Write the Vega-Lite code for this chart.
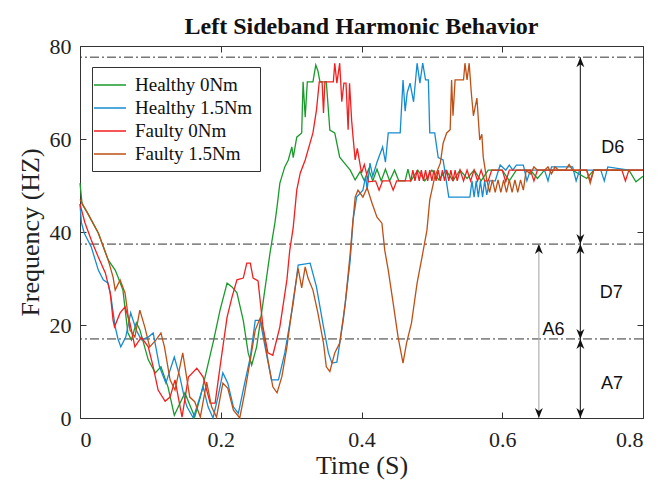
{
"$schema":"https://vega.github.io/schema/vega-lite/v6.json",
"width":563,"height":372,
"autosize":"none",
"padding":{"left":80,"top":46,"right":17,"bottom":68},
"config":{"font":"Liberation Serif","view":{"stroke":"#333","strokeWidth":1},
 "axis":{"grid":false,"domain":false,"tickColor":"#333","tickSize":-6,"labelColor":"#222","titleColor":"#222","labelFont":"Liberation Serif","titleFont":"Liberation Serif","titleFontWeight":"normal","labelFontSize":22,"titleFontSize":26}},
"title":{"text":"Left Sideband Harmonic Behavior","font":"Liberation Serif","fontSize":24,"fontWeight":"bold","color":"#111","offset":-4},
"datasets":{
"g":[{"t":0,"f":50.5},{"t":0.003,"f":46},{"t":0.011,"f":44},{"t":0.026,"f":39.8},{"t":0.04,"f":34},{"t":0.05,"f":31.8},{"t":0.054,"f":30.3},{"t":0.061,"f":27.5},{"t":0.068,"f":18.3},{"t":0.073,"f":16.8},{"t":0.08,"f":20.5},{"t":0.085,"f":19},{"t":0.097,"f":12.5},{"t":0.107,"f":9.7},{"t":0.115,"f":11},{"t":0.125,"f":6.7},{"t":0.134,"f":0.6},{"t":0.149,"f":5.4},{"t":0.163,"f":0.2},{"t":0.171,"f":4.5},{"t":0.18,"f":10.3},{"t":0.19,"f":16.8},{"t":0.199,"f":23.2},{"t":0.209,"f":29},{"t":0.216,"f":28.2},{"t":0.223,"f":26.9},{"t":0.232,"f":21},{"t":0.239,"f":14},{"t":0.244,"f":11.4},{"t":0.251,"f":15.3},{"t":0.26,"f":24.7},{"t":0.27,"f":35.5},{"t":0.277,"f":42},{"t":0.28,"f":45.4},{"t":0.284,"f":50.5},{"t":0.291,"f":54},{"t":0.296,"f":55.5},{"t":0.301,"f":58.3},{"t":0.303,"f":56},{"t":0.308,"f":60.4},{"t":0.315,"f":61.3},{"t":0.317,"f":72.3},{"t":0.32,"f":64.7},{"t":0.323,"f":72.3},{"t":0.331,"f":72.3},{"t":0.335,"f":75.9},{"t":0.338,"f":74.7},{"t":0.341,"f":72.3},{"t":0.35,"f":72.3},{"t":0.355,"f":61.9},{"t":0.362,"f":61.3},{"t":0.369,"f":56.1},{"t":0.377,"f":54.6},{"t":0.384,"f":53.3},{"t":0.391,"f":51.2},{"t":0.398,"f":53},{"t":0.404,"f":51},{"t":0.41,"f":53.5},{"t":0.416,"f":51},{"t":0.422,"f":53.5},{"t":0.428,"f":51},{"t":0.434,"f":53.5},{"t":0.44,"f":51},{"t":0.447,"f":53.3},{"t":0.453,"f":51},{"t":0.462,"f":51},{"t":0.466,"f":53.5},{"t":0.47,"f":51},{"t":0.48,"f":53.3},{"t":0.49,"f":51},{"t":0.5,"f":53.3},{"t":0.51,"f":51.2},{"t":0.52,"f":53.3},{"t":0.53,"f":51},{"t":0.54,"f":53.3},{"t":0.55,"f":51.5},{"t":0.56,"f":53.3},{"t":0.57,"f":51},{"t":0.58,"f":53.3},{"t":0.6,"f":53.3},{"t":0.61,"f":51},{"t":0.62,"f":53.3},{"t":0.64,"f":53.3},{"t":0.65,"f":51.5},{"t":0.66,"f":53.3},{"t":0.7,"f":53.3},{"t":0.72,"f":51.5},{"t":0.73,"f":53.3},{"t":0.78,"f":53.3},{"t":0.79,"f":50.8},{"t":0.8,"f":52}],
"b":[{"t":0,"f":46},{"t":0.002,"f":42},{"t":0.006,"f":39.8},{"t":0.016,"f":36.8},{"t":0.026,"f":31.8},{"t":0.033,"f":29.7},{"t":0.04,"f":29},{"t":0.044,"f":26},{"t":0.05,"f":19.6},{"t":0.054,"f":17},{"t":0.058,"f":15.3},{"t":0.065,"f":17.4},{"t":0.072,"f":22.6},{"t":0.08,"f":18.9},{"t":0.087,"f":16.8},{"t":0.097,"f":17.4},{"t":0.104,"f":18.3},{"t":0.113,"f":11},{"t":0.122,"f":7.5},{"t":0.134,"f":13.1},{"t":0.142,"f":8.8},{"t":0.149,"f":3.9},{"t":0.152,"f":2.4},{"t":0.161,"f":0},{"t":0.175,"f":6.7},{"t":0.182,"f":2.4},{"t":0.189,"f":0},{"t":0.196,"f":4.5},{"t":0.203,"f":9.7},{"t":0.21,"f":7.5},{"t":0.218,"f":2.4},{"t":0.225,"f":1},{"t":0.234,"f":7.5},{"t":0.242,"f":13.1},{"t":0.249,"f":21},{"t":0.256,"f":21},{"t":0.263,"f":15.3},{"t":0.272,"f":8.2},{"t":0.282,"f":8.2},{"t":0.291,"f":14},{"t":0.303,"f":24.7},{"t":0.31,"f":32.9},{"t":0.327,"f":33.3},{"t":0.336,"f":28.2},{"t":0.346,"f":19.6},{"t":0.353,"f":14},{"t":0.358,"f":11.8},{"t":0.365,"f":12},{"t":0.374,"f":21},{"t":0.384,"f":34},{"t":0.388,"f":42.6},{"t":0.391,"f":45.4},{"t":0.393,"f":47.5},{"t":0.402,"f":49},{"t":0.406,"f":52},{"t":0.408,"f":49},{"t":0.412,"f":54.8},{"t":0.416,"f":52},{"t":0.422,"f":55},{"t":0.43,"f":58.3},{"t":0.434,"f":55},{"t":0.438,"f":61.3},{"t":0.455,"f":61.3},{"t":0.459,"f":72.7},{"t":0.462,"f":66},{"t":0.465,"f":70},{"t":0.469,"f":72},{"t":0.474,"f":68},{"t":0.479,"f":76.3},{"t":0.483,"f":72},{"t":0.487,"f":76.3},{"t":0.491,"f":72.7},{"t":0.495,"f":72.7},{"t":0.497,"f":61.3},{"t":0.504,"f":61.3},{"t":0.509,"f":56},{"t":0.516,"f":55.5},{"t":0.521,"f":50.5},{"t":0.524,"f":47.5},{"t":0.554,"f":47.5},{"t":0.557,"f":51},{"t":0.56,"f":47.5},{"t":0.563,"f":51},{"t":0.566,"f":47.5},{"t":0.569,"f":51},{"t":0.572,"f":47.5},{"t":0.575,"f":51},{"t":0.578,"f":48},{"t":0.582,"f":51},{"t":0.59,"f":51},{"t":0.597,"f":54.4},{"t":0.605,"f":53.3},{"t":0.61,"f":54.4},{"t":0.615,"f":53.3},{"t":0.62,"f":54.4},{"t":0.63,"f":54.4},{"t":0.635,"f":51},{"t":0.64,"f":53.3},{"t":0.66,"f":53.3},{"t":0.665,"f":51},{"t":0.67,"f":54},{"t":0.7,"f":54},{"t":0.705,"f":51},{"t":0.71,"f":53.3},{"t":0.74,"f":53.3},{"t":0.745,"f":51},{"t":0.75,"f":54},{"t":0.78,"f":53.3},{"t":0.8,"f":53.3}],
"r":[{"t":0,"f":46},{"t":0.007,"f":42},{"t":0.016,"f":38.3},{"t":0.026,"f":34.6},{"t":0.036,"f":31.2},{"t":0.043,"f":26.9},{"t":0.047,"f":21},{"t":0.049,"f":19.6},{"t":0.057,"f":22.6},{"t":0.064,"f":23.9},{"t":0.071,"f":20.4},{"t":0.078,"f":15.3},{"t":0.087,"f":17.4},{"t":0.097,"f":15.3},{"t":0.104,"f":11},{"t":0.111,"f":6},{"t":0.121,"f":3.6},{"t":0.128,"f":4.5},{"t":0.135,"f":8.2},{"t":0.145,"f":0.2},{"t":0.154,"f":8.8},{"t":0.166,"f":10.7},{"t":0.175,"f":8.8},{"t":0.185,"f":3.2},{"t":0.192,"f":3.2},{"t":0.199,"f":11},{"t":0.209,"f":21.7},{"t":0.216,"f":26},{"t":0.223,"f":29.7},{"t":0.232,"f":30.1},{"t":0.237,"f":33.3},{"t":0.242,"f":33.3},{"t":0.246,"f":30.1},{"t":0.253,"f":29.5},{"t":0.26,"f":19.6},{"t":0.267,"f":14},{"t":0.274,"f":13.5},{"t":0.284,"f":19.6},{"t":0.294,"f":29.7},{"t":0.298,"f":36},{"t":0.303,"f":41},{"t":0.308,"f":49},{"t":0.313,"f":52.7},{"t":0.32,"f":55.5},{"t":0.324,"f":57.6},{"t":0.331,"f":61.3},{"t":0.336,"f":66.2},{"t":0.34,"f":72.3},{"t":0.344,"f":72.3},{"t":0.346,"f":65.6},{"t":0.348,"f":72.3},{"t":0.36,"f":72.3},{"t":0.362,"f":76.3},{"t":0.365,"f":72},{"t":0.369,"f":76.3},{"t":0.372,"f":68},{"t":0.375,"f":72},{"t":0.378,"f":72},{"t":0.381,"f":62},{"t":0.383,"f":72},{"t":0.386,"f":64},{"t":0.388,"f":60.4},{"t":0.391,"f":55.5},{"t":0.394,"f":58},{"t":0.4,"f":52.7},{"t":0.404,"f":54.5},{"t":0.41,"f":50.8},{"t":0.42,"f":51},{"t":0.425,"f":49},{"t":0.43,"f":51},{"t":0.44,"f":51},{"t":0.445,"f":49},{"t":0.45,"f":51},{"t":0.47,"f":51},{"t":0.473,"f":53.3},{"t":0.476,"f":51},{"t":0.479,"f":53.3},{"t":0.482,"f":51},{"t":0.485,"f":53.3},{"t":0.488,"f":51},{"t":0.491,"f":53.3},{"t":0.494,"f":51},{"t":0.497,"f":53.3},{"t":0.5,"f":51},{"t":0.503,"f":53.3},{"t":0.506,"f":51},{"t":0.509,"f":53.3},{"t":0.512,"f":51},{"t":0.515,"f":53.3},{"t":0.518,"f":51},{"t":0.521,"f":53.3},{"t":0.524,"f":51},{"t":0.527,"f":53.3},{"t":0.53,"f":51},{"t":0.533,"f":53.3},{"t":0.536,"f":51},{"t":0.54,"f":53.3},{"t":0.545,"f":51},{"t":0.55,"f":53.3},{"t":0.555,"f":51},{"t":0.56,"f":53.3},{"t":0.565,"f":51},{"t":0.57,"f":53.3},{"t":0.575,"f":51},{"t":0.58,"f":51},{"t":0.585,"f":53.3},{"t":0.6,"f":53.3},{"t":0.605,"f":50.8},{"t":0.61,"f":53.3},{"t":0.64,"f":53.3},{"t":0.645,"f":51},{"t":0.65,"f":53.3},{"t":0.72,"f":53.3},{"t":0.725,"f":51},{"t":0.73,"f":53.3},{"t":0.77,"f":53.3},{"t":0.775,"f":51},{"t":0.78,"f":53.3},{"t":0.8,"f":53.3}],
"o":[{"t":0,"f":47},{"t":0.011,"f":44},{"t":0.026,"f":39.8},{"t":0.04,"f":34},{"t":0.047,"f":30.3},{"t":0.05,"f":27.5},{"t":0.057,"f":29.7},{"t":0.064,"f":26.9},{"t":0.071,"f":18.9},{"t":0.078,"f":17.4},{"t":0.085,"f":23.2},{"t":0.092,"f":19.6},{"t":0.099,"f":15.3},{"t":0.108,"f":16.8},{"t":0.115,"f":18.3},{"t":0.12,"f":15.3},{"t":0.128,"f":8.2},{"t":0.135,"f":6},{"t":0.141,"f":10.3},{"t":0.146,"f":14},{"t":0.156,"f":4.5},{"t":0.163,"f":3.5},{"t":0.171,"f":0.2},{"t":0.18,"f":7.7},{"t":0.187,"f":2.4},{"t":0.194,"f":0.2},{"t":0.203,"f":7.5},{"t":0.21,"f":6.4},{"t":0.218,"f":1.7},{"t":0.227,"f":0},{"t":0.234,"f":5.4},{"t":0.242,"f":12.5},{"t":0.249,"f":18.9},{"t":0.256,"f":21.5},{"t":0.26,"f":19},{"t":0.267,"f":12.5},{"t":0.274,"f":6.7},{"t":0.28,"f":5.4},{"t":0.287,"f":9},{"t":0.294,"f":15.3},{"t":0.303,"f":25.4},{"t":0.31,"f":32.2},{"t":0.315,"f":28},{"t":0.32,"f":32.5},{"t":0.324,"f":30.1},{"t":0.331,"f":27.5},{"t":0.338,"f":22.6},{"t":0.346,"f":16.1},{"t":0.35,"f":11},{"t":0.355,"f":10},{"t":0.362,"f":14},{"t":0.369,"f":16.1},{"t":0.377,"f":24.7},{"t":0.384,"f":35.5},{"t":0.388,"f":42.6},{"t":0.391,"f":47.5},{"t":0.395,"f":49},{"t":0.402,"f":47.5},{"t":0.408,"f":49.5},{"t":0.415,"f":46.2},{"t":0.422,"f":43.2},{"t":0.429,"f":41.9},{"t":0.433,"f":36.1},{"t":0.438,"f":31.8},{"t":0.445,"f":24.7},{"t":0.452,"f":17.4},{"t":0.459,"f":11.8},{"t":0.464,"f":16.1},{"t":0.471,"f":20.4},{"t":0.479,"f":29},{"t":0.486,"f":34.6},{"t":0.493,"f":40.4},{"t":0.497,"f":46.9},{"t":0.504,"f":51.8},{"t":0.512,"f":54.8},{"t":0.516,"f":59.1},{"t":0.521,"f":61.3},{"t":0.526,"f":62},{"t":0.528,"f":72.7},{"t":0.53,"f":65},{"t":0.533,"f":72.7},{"t":0.545,"f":72.7},{"t":0.547,"f":76.3},{"t":0.55,"f":72.7},{"t":0.553,"f":76.3},{"t":0.556,"f":70},{"t":0.559,"f":65},{"t":0.564,"f":68.8},{"t":0.568,"f":59.8},{"t":0.571,"f":61},{"t":0.573,"f":56.1},{"t":0.578,"f":51.2},{"t":0.582,"f":48.5},{"t":0.586,"f":51.2},{"t":0.59,"f":48.5},{"t":0.594,"f":51.2},{"t":0.598,"f":48.5},{"t":0.602,"f":51.2},{"t":0.606,"f":48.5},{"t":0.61,"f":51.2},{"t":0.614,"f":48.5},{"t":0.618,"f":51.2},{"t":0.622,"f":48.5},{"t":0.626,"f":51.2},{"t":0.63,"f":49},{"t":0.634,"f":53.3},{"t":0.64,"f":52.5},{"t":0.645,"f":54},{"t":0.65,"f":53.3},{"t":0.66,"f":53.3},{"t":0.665,"f":54},{"t":0.67,"f":52.5},{"t":0.675,"f":54},{"t":0.68,"f":53.3},{"t":0.69,"f":53.3},{"t":0.695,"f":54.5},{"t":0.7,"f":53.3},{"t":0.72,"f":53.3},{"t":0.725,"f":50.5},{"t":0.73,"f":53.3},{"t":0.8,"f":53.3}],
"hl":[{"y":77.6},{"y":37.4},{"y":17}],
"ar":[{"x":0.711,"y1":37.4,"y2":77.6,"c":"k"},{"x":0.711,"y1":17,"y2":37.4,"c":"k"},{"x":0.711,"y1":0,"y2":17,"c":"k"},{"x":0.652,"y1":0,"y2":37.4,"c":"g"}],
"ah":[{"x":0.711,"y":77.6,"d":"up"},{"x":0.711,"y":37.4,"d":"down"},{"x":0.711,"y":37.4,"d":"up"},{"x":0.711,"y":17,"d":"down"},{"x":0.711,"y":17,"d":"up"},{"x":0.711,"y":0,"d":"down"},{"x":0.652,"y":37.4,"d":"up"},{"x":0.652,"y":0,"d":"down"}],
"lb":[{"x":0.757,"y":58,"l":"D6"},{"x":0.755,"y":26.9,"l":"D7"},{"x":0.673,"y":18.9,"l":"A6"},{"x":0.756,"y":7.4,"l":"A7"}]
},
"layer":[
{"data":{"name":"hl"},"mark":{"type":"rule","color":"#333","strokeWidth":1,"strokeDash":[9,3,2,3]},
 "encoding":{"y":{"field":"y","type":"quantitative","scale":{"domain":[0,80],"nice":false},"axis":{"orient":"right","labels":false,"title":null,"values":[0,20,40,60,80]}}}},
{"data":{"name":"ar"},"mark":{"type":"rule","strokeWidth":1.2},
 "encoding":{"x":{"field":"x","type":"quantitative","axis":null},"y":{"field":"y1","type":"quantitative","axis":null},"y2":{"field":"y2"},
  "stroke":{"field":"c","type":"nominal","scale":{"domain":["k","g"],"range":["#333","#b0b0b0"]},"legend":null}}},
{"data":{"name":"ah"},"mark":{"type":"point","filled":true,"color":"#111","opacity":1,"size":100,"strokeWidth":0},
 "encoding":{"x":{"field":"x","type":"quantitative","axis":null},"y":{"field":"y","type":"quantitative","axis":null},
  "shape":{"field":"d","type":"nominal","scale":{"domain":["up","down"],"range":["M0,0L0.8,2L0,1.4L-0.8,2Z","M0,0L0.8,-2L0,-1.4L-0.8,-2Z"]},"legend":null}}},
{"data":{"name":"lb"},"mark":{"type":"text","font":"Liberation Sans","fontSize":18,"color":"#111","align":"center","baseline":"middle"},
 "encoding":{"x":{"field":"x","type":"quantitative","scale":{"domain":[0,0.8],"nice":false},"axis":{"orient":"top","labels":false,"title":null,"values":[0,0.2,0.4,0.6,0.8]}},"y":{"field":"y","type":"quantitative","axis":null},"text":{"field":"l"}}},
{"data":{"name":"g"},"mark":{"type":"line","strokeWidth":1.3},
 "encoding":{"x":{"field":"t","type":"quantitative","scale":{"domain":[0,0.8],"nice":false},"axis":{"values":[0,0.2,0.4,0.6,0.8],"format":".1~f","title":"Time (S)","labelPadding":17,"titlePadding":2}},
  "y":{"field":"f","type":"quantitative","scale":{"domain":[0,80],"nice":false},"axis":{"values":[0,20,40,60,80],"title":"Frequency (HZ)","labelPadding":15,"titlePadding":6}},
  "color":{"datum":"Healthy 0Nm","type":"nominal","scale":{"domain":["Healthy 0Nm","Healthy 1.5Nm","Faulty 0Nm","Faulty 1.5Nm"],"range":["#1b9a2c","#168cd0","#f41e1e","#bd5016"]},
   "legend":{"title":null,"orient":"none","legendX":12,"legendY":21,"strokeColor":"#333","fillColor":"white","padding":7,"symbolType":"M-1.6,0H1.6","symbolSize":400,"symbolStrokeWidth":1.5,"labelFont":"Liberation Serif","labelFontSize":19,"labelColor":"#111","labelOffset":14,"rowPadding":2}}}},
{"data":{"name":"b"},"mark":{"type":"line","strokeWidth":1.3},
 "encoding":{"x":{"field":"t","type":"quantitative","axis":null},"y":{"field":"f","type":"quantitative","axis":null},"color":{"datum":"Healthy 1.5Nm","type":"nominal"}}},
{"data":{"name":"r"},"mark":{"type":"line","strokeWidth":1.3},
 "encoding":{"x":{"field":"t","type":"quantitative","axis":null},"y":{"field":"f","type":"quantitative","axis":null},"color":{"datum":"Faulty 0Nm","type":"nominal"}}},
{"data":{"name":"o"},"mark":{"type":"line","strokeWidth":1.3},
 "encoding":{"x":{"field":"t","type":"quantitative","axis":null},"y":{"field":"f","type":"quantitative","axis":null},"color":{"datum":"Faulty 1.5Nm","type":"nominal"}}}
],
"resolve":{"axis":{"x":"independent","y":"independent"}}
}
